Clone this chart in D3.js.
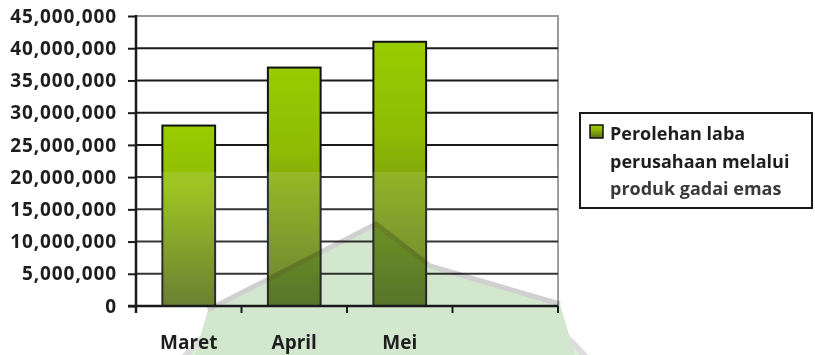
<!DOCTYPE html>
<html>
<head>
<meta charset="utf-8">
<script src="https://cdn.jsdelivr.net/npm/d3@7"></script>
<style>
  html, body { margin: 0; padding: 0; background: #fff; }
  svg { display: block; }
  text { font-family: "Open Sans", "Lato", sans-serif; font-weight: 700; }
</style>
</head>
<body>
<div id="chart"></div>
<script>
// Chart data
const categories = ['Maret', 'April', 'Mei', ''];
const laba = [28000000, 37000000, 41000000];
const yTicks = [0, 5000000, 10000000, 15000000, 20000000, 25000000, 30000000, 35000000, 40000000, 45000000];
const legendLines = ['Perolehan laba', 'perusahaan melalui', 'produk gadai emas'];

const width = 815, height = 355;
const plot = { left: 136, right: 558, top: 16, bottom: 306 };

const svg = d3.select('#chart').append('svg')
    .attr('width', width)
    .attr('height', height);

const defs = svg.append('defs');
const grad = defs.append('linearGradient')
    .attr('id', 'barGrad')
    .attr('x1', 0).attr('y1', 0).attr('x2', 0).attr('y2', 1);
grad.append('stop').attr('offset', '0%').attr('stop-color', '#99cc00');
grad.append('stop').attr('offset', '35%').attr('stop-color', '#8fbb05');
grad.append('stop').attr('offset', '100%').attr('stop-color', '#566f18');

const x = d3.scaleBand()
    .domain(categories)
    .range([plot.left, plot.right])
    .paddingInner(0.5)
    .paddingOuter(0.25);

const y = d3.scaleLinear()
    .domain([0, 45000000])
    .range([plot.bottom, plot.top]);

const fmt = d3.format(',');

// Plot area border (grey)
svg.append('rect')
    .attr('x', plot.left).attr('y', y(45000000))
    .attr('width', plot.right - plot.left)
    .attr('height', plot.bottom - y(45000000))
    .attr('fill', '#fff')
    .attr('stroke', '#9a9a9a')
    .attr('stroke-width', 2);

// Gridlines
svg.append('g')
    .selectAll('line')
    .data(yTicks.filter(d => d > 0 && d < 45000000))
    .enter()
    .append('line')
    .attr('x1', plot.left).attr('x2', plot.right)
    .attr('y1', d => y(d)).attr('y2', d => y(d))
    .attr('stroke', '#1a1a1a')
    .attr('stroke-width', 2);

// Bars
svg.append('g')
    .selectAll('rect')
    .data(laba)
    .enter()
    .append('rect')
    .attr('x', (d, i) => x(categories[i]))
    .attr('y', d => y(d))
    .attr('width', x.bandwidth())
    .attr('height', d => y(0) - y(d))
    .attr('fill', 'url(#barGrad)')
    .attr('stroke', '#111')
    .attr('stroke-width', 2);

// faint lighter band of the scanned page
svg.append('rect')
    .attr('x', plot.left).attr('y', y(20800000))
    .attr('width', plot.right - plot.left)
    .attr('height', y(0) - y(20800000))
    .attr('fill', '#fff')
    .attr('opacity', 0.12);

// Watermark (scanned logo, multiplied over the chart)
const wm = svg.append('g').style('mix-blend-mode', 'multiply');
wm.append('circle')
    .attr('cx', 385).attr('cy', 530).attr('r', 265)
    .attr('fill', '#dcefdc')
    .attr('stroke', '#dcdcdc')
    .attr('stroke-width', 6);
wm.append('path')
    .attr('d', 'M208,310 L376,224 L430,266 L560,304 L575,355 L195,355 Z')
    .attr('fill', '#d3e7cf');
wm.append('path')
    .attr('d', 'M208,310 L376,224 L430,266 L560,304')
    .attr('fill', 'none')
    .attr('stroke', '#d0d0d0')
    .attr('stroke-width', 5);

// Axes
const yAxis = d3.axisLeft(y)
    .tickValues(yTicks)
    .tickSize(8)
    .tickFormat('');
svg.append('g')
    .attr('transform', `translate(${plot.left},0)`)
    .call(yAxis)
    .call(g => g.select('.domain').remove())
    .call(g => g.selectAll('.tick line').attr('stroke', '#1a1a1a').attr('stroke-width', 2));

svg.append('line')
    .attr('x1', plot.left).attr('x2', plot.left)
    .attr('y1', y(45000000) - 1).attr('y2', plot.bottom + 7)
    .attr('stroke', '#1a1a1a').attr('stroke-width', 2.5);

svg.append('line')
    .attr('x1', plot.left - 8).attr('x2', plot.right)
    .attr('y1', plot.bottom).attr('y2', plot.bottom)
    .attr('stroke', '#1a1a1a').attr('stroke-width', 2.5);

// category boundary ticks
const bounds = d3.range(categories.length + 1).map(i => plot.left + i * x.step());
svg.append('g')
    .selectAll('line')
    .data(bounds)
    .enter()
    .append('line')
    .attr('x1', d => d).attr('x2', d => d)
    .attr('y1', plot.bottom).attr('y2', plot.bottom + 7)
    .attr('stroke', '#1a1a1a').attr('stroke-width', 2);

// Y labels
svg.append('g')
    .selectAll('text')
    .data(yTicks)
    .enter()
    .append('text')
    .attr('x', 117)
    .attr('y', d => y(d))
    .attr('dy', '0.35em')
    .attr('text-anchor', 'end')
    .attr('font-size', 19)
    .attr('letter-spacing', 0.9)
    .attr('fill', '#1e1e1e')
    .text(d => fmt(d));

// X labels
svg.append('g')
    .selectAll('text')
    .data(categories)
    .enter()
    .append('text')
    .attr('x', d => x(d) + x.bandwidth() / 2)
    .attr('y', 349)
    .attr('text-anchor', 'middle')
    .attr('font-size', 19)
    .attr('fill', '#1e1e1e')
    .text(d => d);

// Legend
const legend = svg.append('g');
legend.append('rect')
    .attr('x', 580).attr('y', 113)
    .attr('width', 232).attr('height', 95)
    .attr('fill', '#fff')
    .attr('stroke', '#1a1a1a')
    .attr('stroke-width', 2);
legend.append('rect')
    .attr('x', 590).attr('y', 125)
    .attr('width', 13).attr('height', 13)
    .attr('fill', 'url(#barGrad)')
    .attr('stroke', '#111')
    .attr('stroke-width', 1.5);
legend.selectAll('text.leg')
    .data(legendLines)
    .enter()
    .append('text')
    .attr('class', 'leg')
    .attr('x', 610)
    .attr('y', (d, i) => 140 + i * 27.5)
    .attr('font-size', 18)
    .attr('font-weight', (d, i) => i === 2 ? 600 : 700)
    .attr('fill', (d, i) => i === 2 ? '#3a3a3a' : '#1e1e1e')
    .text(d => d);
</script>
</body>
</html>
